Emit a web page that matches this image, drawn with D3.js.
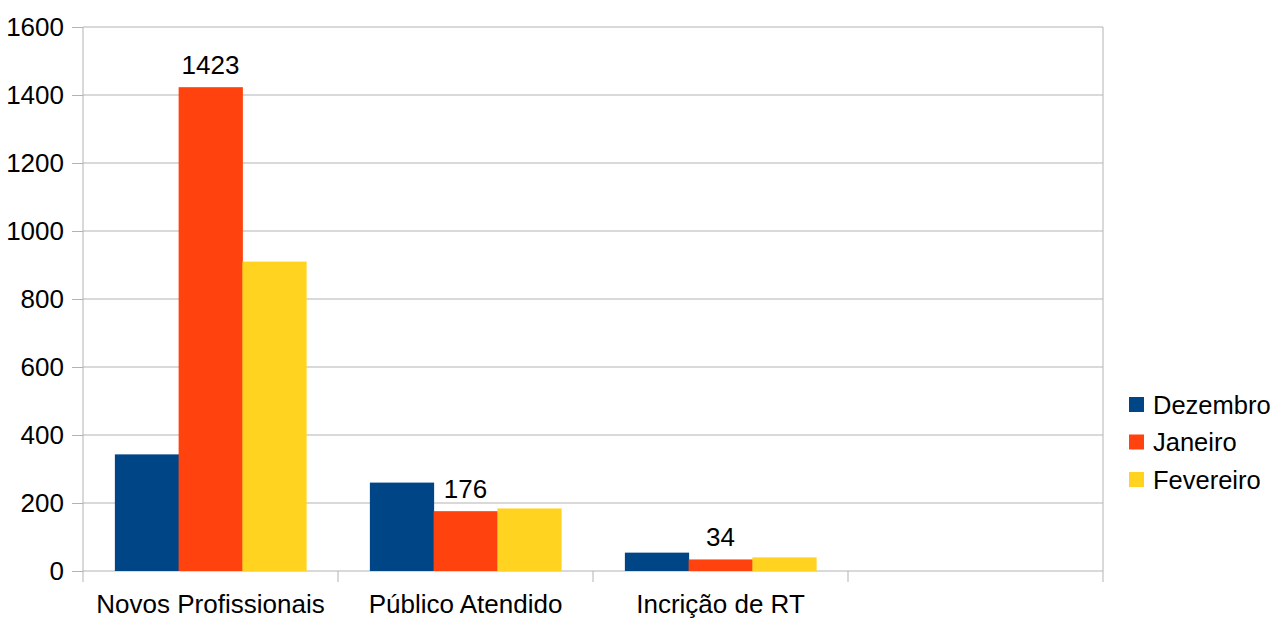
<!DOCTYPE html>
<html>
<head>
<meta charset="utf-8">
<script src="https://cdn.jsdelivr.net/npm/d3@7"></script>
<style>
  body { margin: 0; background: #fff; }
  svg { display: block; font-family: "Liberation Sans", Arial, sans-serif; }
</style>
</head>
<body>
<svg id="chart" width="1272" height="618"></svg>
<script>
// categories (last slot is empty in the original)
var categories = ['Novos Profissionais', 'Público Atendido', 'Incrição de RT', ''];
var seriesNames = ['Dezembro', 'Janeiro', 'Fevereiro'];
var dezembro = [343, 260, 54];
var janeiro = [1423, 176, 34];
var fevereiro = [910, 184, 40];
var yTicks = [0, 200, 400, 600, 800, 1000, 1200, 1400, 1600];
// only Janeiro carries value labels
var labelled = ['Janeiro'];

var colors = d3.scaleOrdinal()
    .domain(seriesNames)
    .range(['#004586', '#ff420e', '#ffd320']);

var svg = d3.select('#chart');
var plotLeft = 83, plotRight = 1103, plotTop = 27, plotBottom = 571;
var fontSize = '26px';
var grey = '#b3b3b3';

var x = d3.scaleBand()
    .domain(categories)
    .range([plotLeft, plotRight]);

var barInset = x.bandwidth() * 0.125;
var x1 = d3.scaleBand()
    .domain(seriesNames)
    .range([barInset, x.bandwidth() - barInset]);

var y = d3.scaleLinear()
    .domain([0, 1600])
    .range([plotBottom, plotTop]);

// gridlines
svg.append('g')
    .selectAll('line.grid')
    .data(yTicks)
    .enter().append('line')
        .attr('class', 'grid')
        .attr('x1', plotLeft)
        .attr('x2', plotRight)
        .attr('y1', d => y(d))
        .attr('y2', d => y(d))
        .attr('stroke', grey);

// y axis
svg.append('g')
    .attr('transform', 'translate(' + plotLeft + ',0)')
    .call(d3.axisLeft(y).tickValues(yTicks).tickFormat(d3.format('d')).tickSize(11).tickPadding(8))
    .call(g => g.select('.domain').attr('stroke', grey).attr('d', 'M0,' + plotTop + 'V' + (plotBottom + 11)))
    .call(g => g.selectAll('.tick line').attr('stroke', grey))
    .call(g => g.selectAll('.tick text')
        .attr('fill', '#000')
        .attr('dy', '0.34em')
        .style('font-size', fontSize)
        .attr('font-family', '"Liberation Sans", Arial, sans-serif'));

// right border
svg.append('line')
    .attr('x1', plotRight).attr('x2', plotRight)
    .attr('y1', plotTop).attr('y2', plotBottom + 11)
    .attr('stroke', grey);

var rows = categories.map((c, i) => ({
    category: c,
    values: [dezembro[i], janeiro[i], fevereiro[i]]
        .map((v, j) => ({ series: seriesNames[j], value: v, category: c }))
        .filter(d => d.value !== undefined)
}));

var groups = svg.append('g')
    .selectAll('g.cat')
    .data(rows)
    .enter().append('g')
        .attr('class', 'cat')
        .attr('transform', d => 'translate(' + x(d.category) + ',0)');

groups.selectAll('rect')
    .data(d => d.values)
    .enter().append('rect')
        .attr('x', d => x1(d.series))
        .attr('width', x1.bandwidth() + 0.5)
        .attr('y', d => y(d.value))
        .attr('height', d => y(0) - y(d.value))
        .attr('fill', d => colors(d.series));

groups.selectAll('text.value')
    .data(d => d.values.filter(v => labelled.includes(v.series)))
    .enter().append('text')
        .attr('class', 'value')
        .attr('x', d => x1(d.series) + x1.bandwidth() / 2)
        .attr('y', d => y(d.value) - 13)
        .attr('text-anchor', 'middle')
        .style('font-size', fontSize)
        .text(d => d.value);

// category ticks (between categories)
svg.append('g')
    .selectAll('line.ctick')
    .data(d3.range(1, categories.length))
    .enter().append('line')
        .attr('class', 'ctick')
        .attr('x1', i => plotLeft + i * x.step())
        .attr('x2', i => plotLeft + i * x.step())
        .attr('y1', plotBottom)
        .attr('y2', plotBottom + 11)
        .attr('stroke', grey);

svg.append('g')
    .selectAll('text.catlabel')
    .data(categories)
    .enter().append('text')
        .attr('class', 'catlabel')
        .attr('x', d => x(d) + x.bandwidth() / 2)
        .attr('y', 613)
        .attr('text-anchor', 'middle')
        .style('font-size', fontSize)
        .text(d => d);

// legend
var legend = svg.append('g')
    .selectAll('g.legend')
    .data(seriesNames)
    .enter().append('g')
        .attr('class', 'legend')
        .attr('transform', (d, i) => 'translate(1129,' + (397 + i * 37.5) + ')');

legend.append('rect')
    .attr('width', 15)
    .attr('height', 15)
    .attr('fill', d => colors(d));

legend.append('text')
    .attr('x', 24)
    .attr('y', 7.5)
    .attr('dy', '0.36em')
    .style('font-size', '25.5px')
    .text(d => d);
</script>
</body>
</html>
